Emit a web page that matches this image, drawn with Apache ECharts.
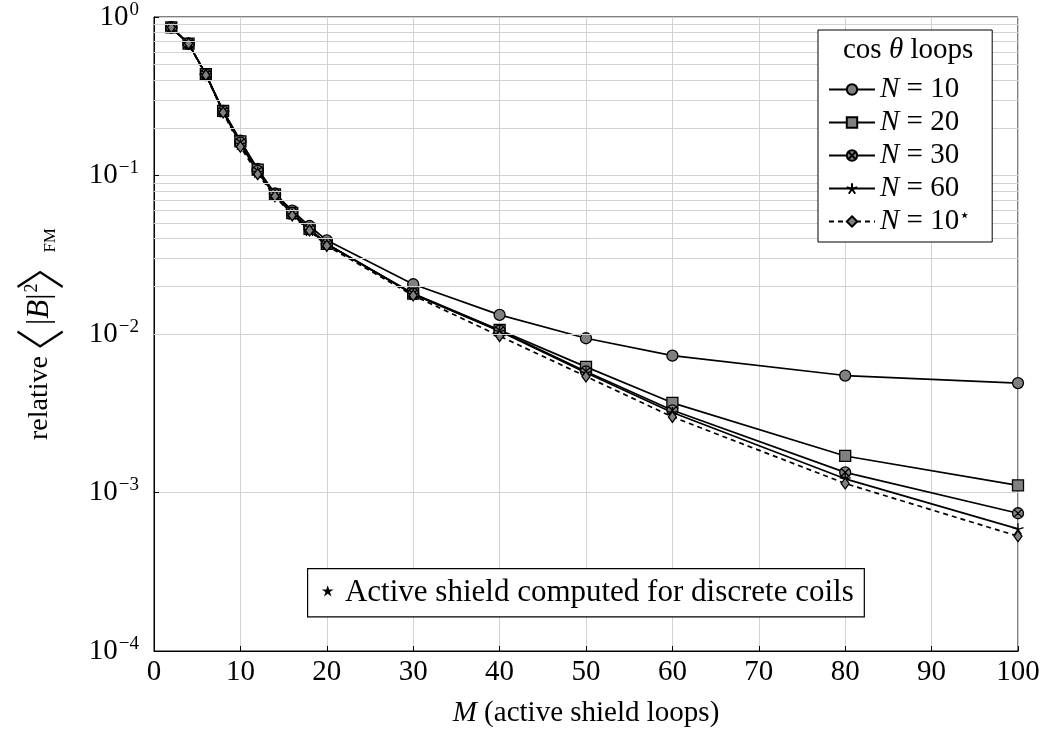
<!DOCTYPE html>
<html>
<head>
<meta charset="utf-8">
<script src="https://cdn.jsdelivr.net/npm/echarts@6/dist/echarts.min.js"></script>
<style>html,body{margin:0;padding:0;background:#fff}#c{width:1044px;height:733px}</style>
</head>
<body>
<div id="c"></div>
<script>
// ---- data ----
const M = [2, 4, 6, 8, 10, 12, 14, 16, 18, 20, 30, 40, 50, 60, 80, 100];
const N10 = [0.86, 0.68, 0.436, 0.256, 0.166, 0.110, 0.077, 0.060, 0.048, 0.039, 0.0206, 0.0132, 0.0094, 0.0073, 0.00547, 0.0049];
const N20 = [0.86, 0.68, 0.436, 0.256, 0.164, 0.109, 0.076, 0.058, 0.046, 0.037, 0.0180, 0.0106, 0.0062, 0.00368, 0.00170, 0.00111];
const N30 = [0.86, 0.68, 0.435, 0.254, 0.161, 0.107, 0.076, 0.058, 0.046, 0.037, 0.0179, 0.0105, 0.0058, 0.0033, 0.00134, 0.00074];
const N60 = [0.86, 0.68, 0.434, 0.252, 0.158, 0.105, 0.075, 0.057, 0.045, 0.037, 0.0178, 0.0104, 0.0057, 0.0032, 0.00122, 0.00059];
const N10s = [0.86, 0.68, 0.43, 0.250, 0.152, 0.102, 0.074, 0.056, 0.045, 0.036, 0.0175, 0.0097, 0.0054, 0.0030, 0.00114, 0.00053];
const seriesNames = ['N10', 'N20', 'N30', 'N60', 'N10s'];
const legendLabels = {N10: '{i|N} = 10', N20: '{i|N} = 20', N30: '{i|N} = 30', N60: '{i|N} = 60', N10s: '{i|N} = 10{s|⋆}'};
const xTicks = [0, 10, 20, 30, 40, 50, 60, 70, 80, 90, 100];
const yDecades = [-4, -3, -2, -1, 0];

const FONT = 'Liberation Serif';
const FS = 29;
const pair = arr => M.map((m, i) => [m, arr[i]]);

// minor grid positions (2..9 x 10^k)
const minorVals = [];
for (let k = -4; k < 0; k++) for (let m = 2; m <= 9; m++) minorVals.push(m * Math.pow(10, k));

const crossCircle = 'path://M0,-10 A10,10 0 1,1 0,10 A10,10 0 1,1 0,-10 Z M-7.07,-7.07 L7.07,7.07 M7.07,-7.07 L-7.07,7.07';
const starSym = 'path://M0,0 L0,-10 M0,0 L-9.51,-3.09 M0,0 L-5.88,8.09 M0,0 L5.88,8.09 M0,0 L9.51,-3.09';

const chart = echarts.init(document.getElementById('c'), null, {renderer: 'canvas'});

function mk(name, data, symbol, size, dashed, fill) {
  return {
    name, type: 'line', data: pair(data), symbol, symbolSize: size,
    showSymbol: true, z: 3,
    lineStyle: {color: '#000', width: 1.7, type: dashed ? [5, 4] : 'solid'},
    itemStyle: {color: fill, borderColor: '#000', borderWidth: 1.3, opacity: 1},
    emphasis: {disabled: true}
  };
}

const option = {
  animation: false,
  backgroundColor: '#fff',
  textStyle: {fontFamily: FONT},
  grid: {left: 154, right: 26, top: 17, bottom: 80, show: true, borderColor: '#000', borderWidth: 1, containLabel: false},
  xAxis: {
    type: 'value', min: 0, max: 100, interval: 10,
    axisLine: {show: true, lineStyle: {color: '#000', width: 1}},
    axisTick: {show: true, inside: true, length: 5, lineStyle: {color: '#000'}},
    axisLabel: {fontFamily: FONT, fontSize: FS, color: '#000', margin: 7},
    splitLine: {show: true, lineStyle: {color: '#d2d2d2', width: 1}},
    name: '{i|M} (active shield loops)', nameLocation: 'middle', nameGap: 48,
    nameTextStyle: {fontFamily: FONT, fontSize: FS, color: '#000', rich: {i: {fontStyle: 'italic', fontFamily: FONT, fontSize: FS}}}
  },
  yAxis: {
    type: 'log', logBase: 10, min: 1e-4, max: 1,
    axisLine: {show: true, lineStyle: {color: '#000', width: 1}},
    axisTick: {show: true, inside: true, length: 5, lineStyle: {color: '#000'}},
    axisLabel: {
      fontFamily: FONT, color: '#000', margin: 15,
      formatter: v => {
        const e = Math.round(Math.log10(v));
        return '{b|10}{s|' + (e < 0 ? '−' + (-e) : e) + '}';
      },
      rich: {b: {fontSize: FS, fontFamily: FONT, color: '#000'}, s: {fontSize: 19, fontFamily: FONT, color: '#000', verticalAlign: 'top', padding: [0, 0, 14, 1]}}
    },
    splitLine: {show: true, lineStyle: {color: '#d2d2d2', width: 1}},
    name: '{r|relative}{bl|〈}{n||}{i|B}{n||}{sup|2}{brr|〉}{sub|FM}',
    nameLocation: 'middle', nameRotate: 90, nameGap: 89,
    nameTextStyle: {
      fontFamily: FONT, color: '#000',
      rich: {
        r: {fontSize: 28, fontFamily: FONT, color: '#000', width: 62, align: 'left'},
        bl: {fontSize: 50, fontFamily: 'Noto Sans CJK SC', fontWeight: 300, color: '#000', padding: [0, 3, 0, 0]},
        brr: {fontSize: 50, fontFamily: 'Noto Sans CJK SC', fontWeight: 300, color: '#000', width: 26, align: 'left', padding: [0, 0, 0, 5]},
        n: {fontSize: 31, fontFamily: FONT, color: '#000'},
        i: {fontSize: 31, fontFamily: FONT, fontStyle: 'italic', color: '#000'},
        sup: {fontSize: 18, fontFamily: FONT, color: '#000', verticalAlign: 'top', padding: [8, 0, 0, 1]},
        sub: {fontSize: 17, fontFamily: FONT, color: '#000', verticalAlign: 'bottom', padding: [0, 0, 6, 0]}
      }
    }
  },
  legend: {
    data: seriesNames, orient: 'vertical', left: 818, top: 30,
    padding: [45, 22, 6, 10], itemGap: 4, itemWidth: 46, itemHeight: 13,
    backgroundColor: '#fff', borderColor: '#000', borderWidth: 1, z: 10,
    selectedMode: false,
    formatter: n => legendLabels[n],
    textStyle: {
      fontFamily: FONT, fontSize: FS, color: '#000',
      rich: {i: {fontStyle: 'italic', fontFamily: FONT, fontSize: FS, color: '#000'}, s: {fontSize: 18, fontFamily: FONT, color: '#000', verticalAlign: 'top'}}
    }
  },
  graphic: [
    {
      type: 'text', left: 843, top: 36, z: 20,
      style: {
        text: 'cos {i|θ} loops', fontFamily: FONT, fontSize: FS, fill: '#000',
        rich: {i: {fontStyle: 'italic', fontFamily: FONT, fontSize: FS}}
      }
    },
    {
      type: 'text', left: 307, top: 568, z: 20,
      style: {
        text: '⋆ Active shield computed for discrete coils', fontFamily: FONT, fontSize: 31, fill: '#000',
        backgroundColor: '#fff', borderColor: '#000', borderWidth: 1.2, padding: [8, 10, 8, 10]
      }
    }
  ],
  series: [
    {
      name: 'grid-minor', type: 'line', data: [], z: 1, silent: true,
      markLine: {
        silent: true, symbol: ['none', 'none'], label: {show: false}, animation: false,
        lineStyle: {color: '#d2d2d2', width: 1, type: 'solid'},
        emphasis: {disabled: true},
        data: minorVals.map(v => ({yAxis: v}))
      }
    },
    mk('N10', N10, 'circle', 11, false, '#808080'),
    mk('N20', N20, 'rect', 11, false, '#808080'),
    mk('N30', N30, crossCircle, 11, false, '#808080'),
    mk('N60', N60, starSym, 11, false, '#000'),
    mk('N10s', N10s, 'diamond', [8, 11], true, '#808080')
  ]
};
chart.setOption(option);
</script>
</body>
</html>
